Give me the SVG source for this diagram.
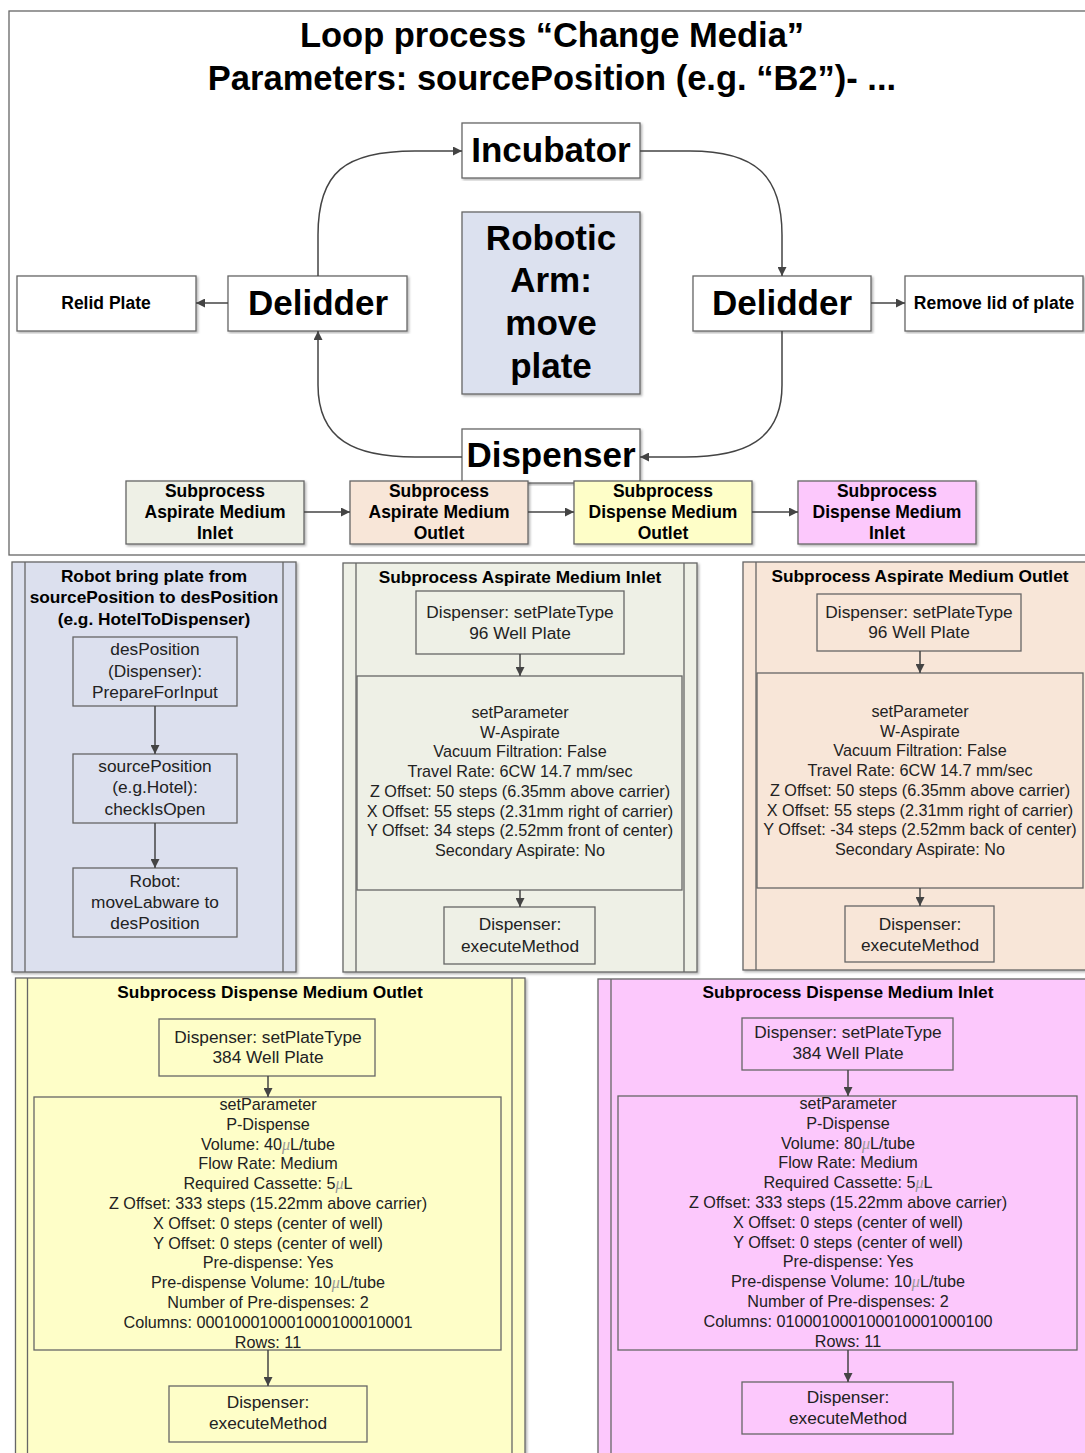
<svg xmlns="http://www.w3.org/2000/svg" width="1085" height="1453" viewBox="0 0 1085 1453">
<style>
.frame{fill:#fff;stroke:#666;stroke-width:1.3}
.nd{fill:#fff;stroke:#666;stroke-width:1.3}
.sb{fill:none;stroke:#666;stroke-width:1.3}
.pl{stroke:#666;stroke-width:1.3}
.ln{fill:none;stroke:#444;stroke-width:1.5}
text{font-family:"Liberation Sans",Arial,sans-serif;fill:#000;text-anchor:middle}
.ttl{font-size:34.5px;font-weight:bold}
.big{font-size:35px;font-weight:bold}
.mb{font-size:17.5px;font-weight:bold}
.ph{font-size:17.3px;font-weight:bold}
.b{font-size:17.3px;fill:#222}
.p{font-size:16.2px;fill:#222}
.mu{font-style:italic;fill:#999;font-family:"Liberation Serif",serif}
</style>
<defs>
<marker id="ah" markerUnits="userSpaceOnUse" markerWidth="10" markerHeight="9" refX="9" refY="4.5" orient="auto">
<path d="M0,0 L9,4.5 L0,9 z" fill="#444"/>
</marker>
<filter id="sh" x="-5%" y="-5%" width="110%" height="110%">
<feDropShadow dx="1.5" dy="1.5" stdDeviation="1" flood-color="#000" flood-opacity="0.3"/>
</filter>
</defs>

<g id="loop-frame">
<rect class="frame" x="9" y="11" width="1090" height="544"/>
<text class="ttl" x="552" y="47">Loop process “Change Media”</text>
<text class="ttl" x="552" y="90">Parameters: sourcePosition (e.g. “B2”)- ...</text>
</g>

<g id="incubator">
<rect class="nd" filter="url(#sh)" x="462" y="123" width="178" height="55"/>
<text class="big" x="551" y="162">Incubator</text>
</g>
<g id="robotic-arm">
<rect class="nd" filter="url(#sh)" style="fill:#dce1ef" x="462" y="212" width="178" height="182"/>
<text class="big" x="551" y="250">Robotic</text>
<text class="big" x="551" y="292">Arm:</text>
<text class="big" x="551" y="335">move</text>
<text class="big" x="551" y="378">plate</text>
</g>
<g id="delidder-left">
<rect class="nd" filter="url(#sh)" x="228" y="276" width="179" height="55"/>
<text class="big" x="318" y="315">Delidder</text>
</g>
<g id="relid-plate">
<rect class="nd" filter="url(#sh)" x="17" y="276" width="179" height="55"/>
<text class="mb" x="106" y="309">Relid Plate</text>
</g>
<g id="delidder-right">
<rect class="nd" filter="url(#sh)" x="693" y="276" width="178" height="55"/>
<text class="big" x="782" y="315">Delidder</text>
</g>
<g id="remove-lid">
<rect class="nd" filter="url(#sh)" x="905" y="276" width="178" height="55"/>
<text class="mb" x="994" y="309">Remove lid of plate</text>
</g>
<g id="dispenser">
<rect class="nd" filter="url(#sh)" x="462" y="429" width="178" height="54"/>
<text class="big" x="551" y="467">Dispenser</text>
</g>
<g id="sub-asp-inlet">
<rect class="nd" filter="url(#sh)" style="fill:#eef0e6" x="126" y="481" width="178" height="63"/>
<text class="mb" x="215" y="497">Subprocess</text>
<text class="mb" x="215" y="518">Aspirate Medium</text>
<text class="mb" x="215" y="539">Inlet</text>
</g>
<g id="sub-asp-outlet">
<rect class="nd" filter="url(#sh)" style="fill:#f8e6d8" x="350" y="481" width="178" height="63"/>
<text class="mb" x="439" y="497">Subprocess</text>
<text class="mb" x="439" y="518">Aspirate Medium</text>
<text class="mb" x="439" y="539">Outlet</text>
</g>
<g id="sub-disp-outlet">
<rect class="nd" filter="url(#sh)" style="fill:#fefec8" x="574" y="481" width="178" height="63"/>
<text class="mb" x="663" y="497">Subprocess</text>
<text class="mb" x="663" y="518">Dispense Medium</text>
<text class="mb" x="663" y="539">Outlet</text>
</g>
<g id="sub-disp-inlet">
<rect class="nd" filter="url(#sh)" style="fill:#fcc8fc" x="798" y="481" width="178" height="63"/>
<text class="mb" x="887" y="497">Subprocess</text>
<text class="mb" x="887" y="518">Dispense Medium</text>
<text class="mb" x="887" y="539">Inlet</text>
</g>

<g id="panel-robot">
<rect class="nd" filter="url(#sh)" style="fill:#dce0ee" x="12" y="562" width="284" height="410"/>
<line class="pl" x1="25" y1="562" x2="25" y2="972"/>
<line class="pl" x1="283" y1="562" x2="283" y2="972"/>
<text class="ph" x="154" y="582">Robot bring plate from</text>
<text class="ph" x="154" y="603">sourcePosition to desPosition</text>
<text class="ph" x="154" y="625">(e.g. HotelToDispenser)</text>
<rect class="sb" x="73" y="637" width="164" height="69"/>
<text class="b" x="155" y="655">desPosition</text>
<text class="b" x="155" y="677">(Dispenser):</text>
<text class="b" x="155" y="698">PrepareForInput</text>
<rect class="sb" x="73" y="754" width="164" height="69"/>
<text class="b" x="155" y="772">sourcePosition</text>
<text class="b" x="155" y="793">(e.g.Hotel):</text>
<text class="b" x="155" y="815">checkIsOpen</text>
<rect class="sb" x="73" y="868" width="164" height="69"/>
<text class="b" x="155" y="887">Robot:</text>
<text class="b" x="155" y="908">moveLabware to</text>
<text class="b" x="155" y="929">desPosition</text>
</g>

<g id="panel-asp-inlet">
<rect class="nd" filter="url(#sh)" style="fill:#eef0e6" x="343" y="563" width="354" height="409"/>
<line class="pl" x1="356" y1="563" x2="356" y2="972"/>
<line class="pl" x1="684" y1="563" x2="684" y2="972"/>
<text class="ph" x="520" y="583">Subprocess Aspirate Medium Inlet</text>
<rect class="sb" x="416" y="591" width="208" height="63"/>
<text class="b" x="520" y="618">Dispenser: setPlateType</text>
<text class="b" x="520" y="639">96 Well Plate</text>
<rect class="sb" x="357" y="676" width="325" height="214"/>
<text class="p" x="520" y="718">setParameter</text>
<text class="p" x="520" y="737.7">W-Aspirate</text>
<text class="p" x="520" y="757.4">Vacuum Filtration: False</text>
<text class="p" x="520" y="777.1">Travel Rate: 6CW 14.7 mm/sec</text>
<text class="p" x="520" y="796.8">Z Offset: 50 steps (6.35mm above carrier)</text>
<text class="p" x="520" y="816.5">X Offset: 55 steps (2.31mm right of carrier)</text>
<text class="p" x="520" y="836.2">Y Offset: 34 steps (2.52mm front of center)</text>
<text class="p" x="520" y="855.9">Secondary Aspirate: No</text>
<rect class="sb" x="444" y="907" width="151" height="57"/>
<text class="b" x="520" y="930">Dispenser:</text>
<text class="b" x="520" y="952">executeMethod</text>
</g>

<g id="panel-asp-outlet">
<rect class="nd" filter="url(#sh)" style="fill:#f8e6d8" x="743" y="562" width="360" height="408"/>
<line class="pl" x1="756" y1="562" x2="756" y2="970"/>
<text class="ph" x="920" y="582">Subprocess Aspirate Medium Outlet</text>
<rect class="sb" x="817" y="594" width="204" height="57"/>
<text class="b" x="919" y="618">Dispenser: setPlateType</text>
<text class="b" x="919" y="638">96 Well Plate</text>
<rect class="sb" x="757" y="673" width="326" height="215"/>
<text class="p" x="920" y="717">setParameter</text>
<text class="p" x="920" y="736.7">W-Aspirate</text>
<text class="p" x="920" y="756.4">Vacuum Filtration: False</text>
<text class="p" x="920" y="776.1">Travel Rate: 6CW 14.7 mm/sec</text>
<text class="p" x="920" y="795.8">Z Offset: 50 steps (6.35mm above carrier)</text>
<text class="p" x="920" y="815.5">X Offset: 55 steps (2.31mm right of carrier)</text>
<text class="p" x="920" y="835.2">Y Offset: -34 steps (2.52mm back of center)</text>
<text class="p" x="920" y="854.9">Secondary Aspirate: No</text>
<rect class="sb" x="845" y="906" width="149" height="56"/>
<text class="b" x="920" y="930">Dispenser:</text>
<text class="b" x="920" y="951">executeMethod</text>
</g>

<g id="panel-disp-outlet">
<rect class="nd" filter="url(#sh)" style="fill:#fefec8" x="15.5" y="978" width="509.5" height="490"/>
<line class="pl" x1="27.5" y1="978" x2="27.5" y2="1460"/>
<line class="pl" x1="512" y1="978" x2="512" y2="1460"/>
<text class="ph" x="270" y="998">Subprocess Dispense Medium Outlet</text>
<rect class="sb" x="159" y="1019" width="216" height="57"/>
<text class="b" x="268" y="1043">Dispenser: setPlateType</text>
<text class="b" x="268" y="1063">384 Well Plate</text>
<rect class="sb" x="34" y="1097" width="467" height="253"/>
<text class="p" x="268" y="1110">setParameter</text>
<text class="p" x="268" y="1129.8">P-Dispense</text>
<text class="p" x="268" y="1149.6">Volume: 40<tspan class="mu">μ</tspan>L/tube</text>
<text class="p" x="268" y="1169.4">Flow Rate: Medium</text>
<text class="p" x="268" y="1189.2">Required Cassette: 5<tspan class="mu">μ</tspan>L</text>
<text class="p" x="268" y="1209">Z Offset: 333 steps (15.22mm above carrier)</text>
<text class="p" x="268" y="1228.8">X Offset: 0 steps (center of well)</text>
<text class="p" x="268" y="1248.6">Y Offset: 0 steps (center of well)</text>
<text class="p" x="268" y="1268.4">Pre-dispense: Yes</text>
<text class="p" x="268" y="1288.2">Pre-dispense Volume: 10<tspan class="mu">μ</tspan>L/tube</text>
<text class="p" x="268" y="1308">Number of Pre-dispenses: 2</text>
<text class="p" x="268" y="1327.8">Columns: 000100010001000100010001</text>
<text class="p" x="268" y="1347.6">Rows: 11</text>
<rect class="sb" x="169" y="1386" width="198" height="56"/>
<text class="b" x="268" y="1408">Dispenser:</text>
<text class="b" x="268" y="1429">executeMethod</text>
</g>

<g id="panel-disp-inlet">
<rect class="nd" filter="url(#sh)" style="fill:#fcc8fc" x="598" y="979" width="500" height="490"/>
<line class="pl" x1="611" y1="979" x2="611" y2="1460"/>
<text class="ph" x="848" y="998">Subprocess Dispense Medium Inlet</text>
<rect class="sb" x="742" y="1018" width="211" height="52"/>
<text class="b" x="848" y="1038">Dispenser: setPlateType</text>
<text class="b" x="848" y="1059">384 Well Plate</text>
<rect class="sb" x="618" y="1096" width="459" height="254"/>
<text class="p" x="848" y="1109">setParameter</text>
<text class="p" x="848" y="1128.8">P-Dispense</text>
<text class="p" x="848" y="1148.6">Volume: 80<tspan class="mu">μ</tspan>L/tube</text>
<text class="p" x="848" y="1168.4">Flow Rate: Medium</text>
<text class="p" x="848" y="1188.2">Required Cassette: 5<tspan class="mu">μ</tspan>L</text>
<text class="p" x="848" y="1208">Z Offset: 333 steps (15.22mm above carrier)</text>
<text class="p" x="848" y="1227.8">X Offset: 0 steps (center of well)</text>
<text class="p" x="848" y="1247.6">Y Offset: 0 steps (center of well)</text>
<text class="p" x="848" y="1267.4">Pre-dispense: Yes</text>
<text class="p" x="848" y="1287.2">Pre-dispense Volume: 10<tspan class="mu">μ</tspan>L/tube</text>
<text class="p" x="848" y="1307">Number of Pre-dispenses: 2</text>
<text class="p" x="848" y="1326.8">Columns: 010001000100010001000100</text>
<text class="p" x="848" y="1346.6">Rows: 11</text>
<rect class="sb" x="742" y="1382" width="211" height="52"/>
<text class="b" x="848" y="1403">Dispenser:</text>
<text class="b" x="848" y="1424">executeMethod</text>
</g>

<g id="connectors">
<path class="ln" marker-end="url(#ah)" d="M318,276 L318,235 C318,172 345,151 415,151 L462,151"/>
<path class="ln" marker-end="url(#ah)" d="M640,151 L690,151 C755,151 782,175 782,235 L782,276"/>
<path class="ln" marker-end="url(#ah)" d="M782,331 L782,385 C782,440 745,457 685,457 L640,457"/>
<path class="ln" marker-end="url(#ah)" d="M462,457 L415,457 C355,457 318,440 318,385 L318,331"/>
<path class="ln" marker-end="url(#ah)" d="M228,303 L196,303"/>
<path class="ln" marker-end="url(#ah)" d="M871,303 L905,303"/>
<path class="ln" marker-end="url(#ah)" d="M304,512 L350,512"/>
<path class="ln" marker-end="url(#ah)" d="M528,512 L574,512"/>
<path class="ln" marker-end="url(#ah)" d="M752,512 L798,512"/>
<path class="ln" marker-end="url(#ah)" d="M155,706 L155,754"/>
<path class="ln" marker-end="url(#ah)" d="M155,823 L155,868"/>
<path class="ln" marker-end="url(#ah)" d="M520,654 L520,676"/>
<path class="ln" marker-end="url(#ah)" d="M520,890 L520,907"/>
<path class="ln" marker-end="url(#ah)" d="M920,651 L920,673"/>
<path class="ln" marker-end="url(#ah)" d="M920,888 L920,906"/>
<path class="ln" marker-end="url(#ah)" d="M268,1076 L268,1097"/>
<path class="ln" marker-end="url(#ah)" d="M268,1350 L268,1386"/>
<path class="ln" marker-end="url(#ah)" d="M848,1070 L848,1096"/>
<path class="ln" marker-end="url(#ah)" d="M848,1350 L848,1382"/>
</g>
</svg>
